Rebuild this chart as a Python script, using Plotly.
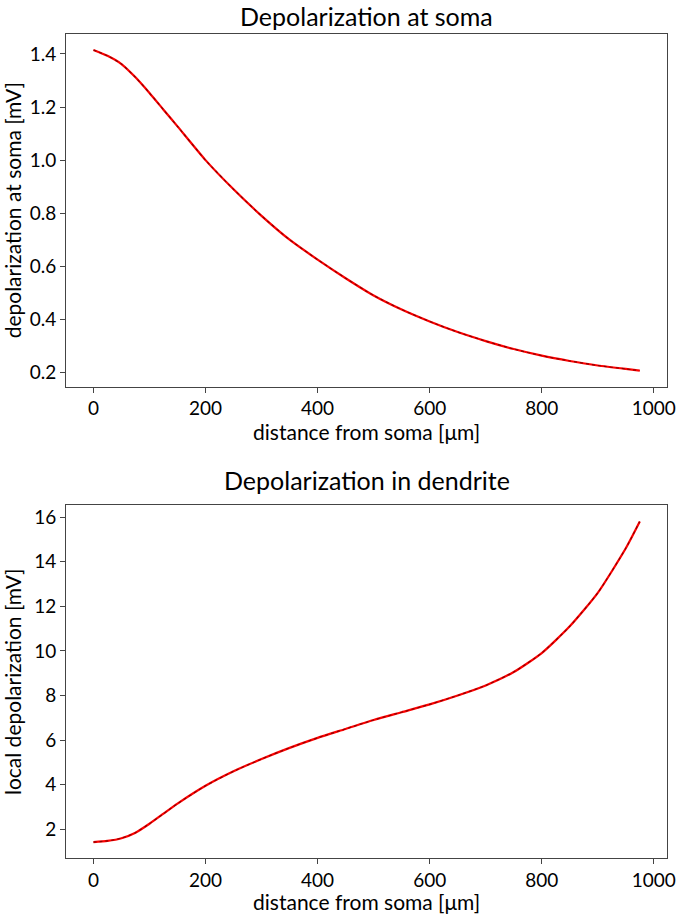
import plotly.graph_objects as go

# distance from soma [um]
distance = [0, 25, 50, 75, 100, 125, 150, 200, 250, 300, 350, 400, 450, 500,
            550, 600, 650, 700, 750, 800, 850, 900, 950, 975]
# depolarization at soma [mV]
soma_depol = [1.415, 1.393, 1.362, 1.312, 1.253, 1.19, 1.127, 1.0, 0.89, 0.79, 0.70,
              0.625, 0.555, 0.49, 0.437, 0.392, 0.352, 0.318, 0.288, 0.263,
              0.243, 0.226, 0.213, 0.207]
# local depolarization in dendrite [mV]
local_depol = [1.43, 1.48, 1.6, 1.85, 2.25, 2.7, 3.15, 3.95, 4.6, 5.15, 5.65, 6.1,
               6.5, 6.9, 7.25, 7.6, 8.0, 8.45, 9.05, 9.9, 11.1, 12.6, 14.6, 15.8]

FONT = "Lato"
W, H = 685, 914
TICK = 19
LAB = 21
TITLE = 25

def rng(vals):
    lo, hi = min(vals), max(vals)
    m = (hi - lo) * 0.05
    return [lo - m, hi + m]

fig = go.Figure()
for ys, xa, ya in [(soma_depol, "x", "y"), (local_depol, "x2", "y2")]:
    fig.add_trace(go.Scatter(x=distance, y=ys, mode="lines", xaxis=xa, yaxis=ya,
                             line=dict(color="red", width=2.2, shape="spline", smoothing=0.6),
                             showlegend=False))
    fig.add_trace(go.Scatter(x=distance, y=ys, mode="lines", xaxis=xa, yaxis=ya,
                             line=dict(color="rgba(90,0,0,0.7)", width=1.2, dash="dot",
                                       shape="spline", smoothing=0.6),
                             showlegend=False))

xd = [67 / W, 676 / W]
top_dom = [(H - 386) / H, (H - 33) / H]
bot_dom = [(H - 858) / H, (H - 505) / H]

axcommon = dict(showline=True, linecolor="#444", linewidth=1, mirror=True,
                ticks="outside", ticklen=5, tickcolor="#444", showgrid=False,
                zeroline=False, tickfont=dict(size=TICK, color="black", family=FONT))

fig.update_layout(
    width=W, height=H, margin=dict(l=0, r=0, t=0, b=0),
    plot_bgcolor="white", paper_bgcolor="white",
    font=dict(family=FONT, color="black"),
    xaxis=dict(domain=xd, anchor="y", range=rng(distance), dtick=200, tick0=0,
               title=dict(text="distance from soma [μm]", font=dict(size=LAB), standoff=6),
               **axcommon),
    yaxis=dict(domain=top_dom, anchor="x", range=rng(soma_depol), dtick=0.2, tick0=0,
               tickformat=".1f",
               title=dict(text="depolarization at soma [mV]", font=dict(size=LAB), standoff=6),
               **axcommon),
    xaxis2=dict(domain=xd, anchor="y2", range=rng(distance), dtick=200, tick0=0,
                title=dict(text="distance from soma [μm]", font=dict(size=LAB), standoff=6),
                **axcommon),
    yaxis2=dict(domain=bot_dom, anchor="x2", range=rng(local_depol), dtick=2, tick0=0,
                title=dict(text="local depolarization [mV]", font=dict(size=LAB), standoff=6),
                **axcommon),
    annotations=[
        dict(text="Depolarization at soma", x=(xd[0] + xd[1]) / 2, y=(H - 15) / H,
             xref="paper", yref="paper", showarrow=False, yanchor="middle",
             font=dict(size=TITLE, family=FONT, color="black")),
        dict(text="Depolarization in dendrite", x=(xd[0] + xd[1]) / 2, y=(H - 480) / H,
             xref="paper", yref="paper", showarrow=False, yanchor="middle",
             font=dict(size=TITLE, family=FONT, color="black")),
    ],
)

fig.write_html("out.html", config={"displayModeBar": False},
               post_script="document.body.style.margin='0';")
